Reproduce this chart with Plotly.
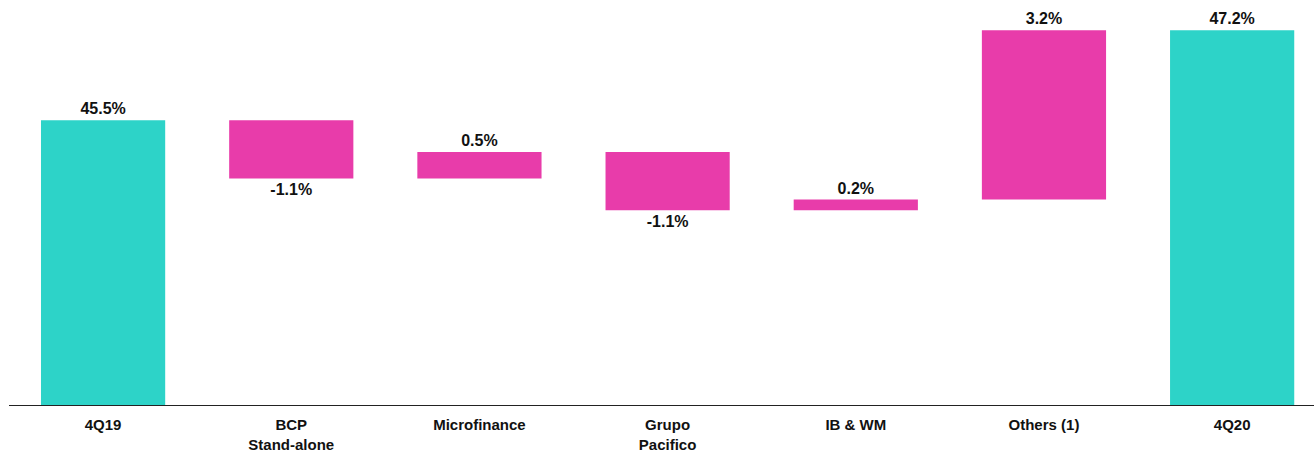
import plotly.graph_objects as go

categories = ["4Q19", "BCP<br>Stand-alone", "Microfinance", "Grupo<br>Pacifico",
              "IB & WM", "Others (1)", "4Q20"]
start_value = 45.5
deltas = [-1.1, 0.5, -1.1, 0.2, 3.2]
end_value = 47.2

TEAL = "#2DD3C8"
PINK = "#E83CAA"
FONT = "Liberation Sans, Arial, sans-serif"

# build bases / heights for the floating bars
bases, heights, colors, labels = [0], [start_value], [TEAL], [f"{start_value:.1f}%"]
level = start_value
for d in deltas:
    bases.append(level)
    heights.append(d)
    colors.append(PINK)
    labels.append(f"{d:.1f}%")
    level += d
bases.append(0)
heights.append(end_value)
colors.append(TEAL)
labels.append(f"{end_value:.1f}%")

fig = go.Figure(
    go.Bar(
        x=list(range(len(categories))),
        y=heights,
        base=bases,
        marker=dict(color=colors, line=dict(width=0)),
        width=0.66,
        text=labels,
        textposition="outside",
        textfont=dict(family=FONT, size=16, color="#111111", weight="bold"),
        cliponaxis=False,
        hoverinfo="skip",
    )
)

fig.update_layout(
    width=1314,
    height=452,
    margin=dict(l=9, r=0, t=0, b=47, autoexpand=False),
    paper_bgcolor="white",
    plot_bgcolor="white",
    showlegend=False,
    xaxis=dict(
        range=[-0.5, 6.435],
        tickmode="array",
        tickvals=list(range(len(categories))),
        ticktext=categories,
        tickfont=dict(family=FONT, size=15, color="#111111", weight="bold"),
        showline=True,
        linecolor="#222222",
        linewidth=1.3,
        showgrid=False,
        zeroline=False,
        ticks="",
        ticklabelstandoff=6,
        automargin=False,
    ),
    yaxis=dict(
        range=[40.12, 47.77],
        visible=False,
        showgrid=False,
        zeroline=False,
    ),
)

# drop the browser's default page margin so the figure sits at the window edge
fig.write_html(
    "out.html",
    config={"displayModeBar": False},
    post_script="document.body.style.margin='0';",
)
